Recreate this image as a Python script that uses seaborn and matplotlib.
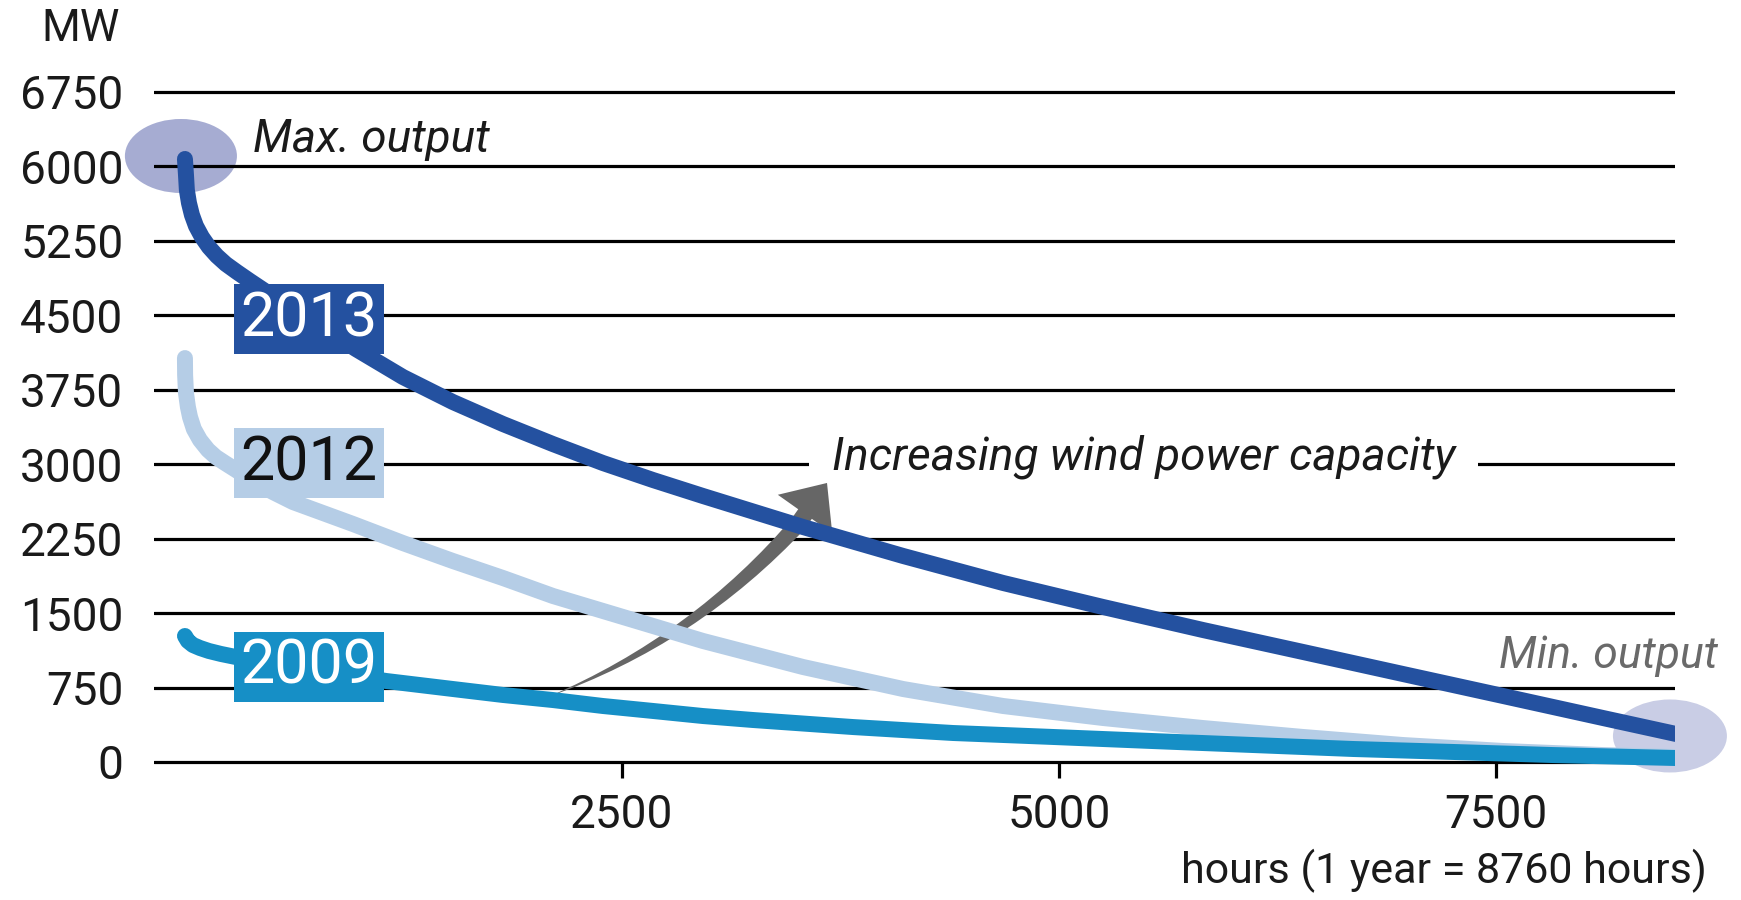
import pandas as pd
import seaborn as sns
import matplotlib.pyplot as plt
from matplotlib.patches import Ellipse

# duration curves (hours sorted by output, MW)
hours_2013 = [0, 6, 11, 23, 40, 63, 97, 137, 183, 234, 297, 372, 458, 561, 675,
              818, 978, 1247, 1533, 1819, 2105, 2391, 2677, 2963, 3535, 4108,
              4680, 5252, 5824, 6396, 6968, 7540, 8112, 8530]
mw_2013 = [6073, 5911, 5760, 5630, 5509, 5398, 5287, 5186, 5096, 5015, 4935,
           4844, 4743, 4632, 4502, 4341, 4159, 3877, 3625, 3404, 3202, 3011,
           2840, 2679, 2367, 2075, 1803, 1561, 1329, 1108, 886, 665, 443, 282]

hours_2012 = [0, 1, 6, 17, 29, 51, 86, 132, 177, 229, 292, 389, 503, 618, 961,
              1247, 1533, 1819, 2105, 2391, 2963, 3535, 4108, 4680, 5252, 5824,
              6396, 6968, 7540, 8112, 8530]
mw_2012 = [4068, 3897, 3716, 3575, 3474, 3353, 3243, 3142, 3071, 3011, 2941,
           2830, 2719, 2618, 2397, 2205, 2024, 1853, 1672, 1521, 1219, 957,
           735, 564, 443, 342, 252, 171, 111, 70, 50]

hours_2009 = [0, 17, 46, 86, 137, 206, 292, 1150, 1533, 1819, 2105, 2391, 2677,
              2963, 3249, 3822, 4394, 4966, 5538, 6110, 6682, 7254, 7826, 8530]
mw_2009 = [1269, 1219, 1178, 1148, 1118, 1088, 1057, 816, 735, 675, 624, 564,
           514, 463, 423, 352, 292, 252, 211, 171, 131, 101, 70, 40]

y_ticks = [0, 750, 1500, 2250, 3000, 3750, 4500, 5250, 6000, 6750]
x_ticks = [2500, 5000, 7500]

colors = {'2013': '#2451a0', '2012': '#b5cde6', '2009': '#168fc6'}
label_colors = {'2013': 'white', '2012': '#111111', '2009': 'white'}
# where the year boxes sit (hours, MW)
label_pos = {'2013': (709, 4460), '2012': (709, 3011), '2009': (709, 957)}

frames = []
for yr, h, m in [('2012', hours_2012, mw_2012), ('2009', hours_2009, mw_2009),
                 ('2013', hours_2013, mw_2013)]:
    frames.append(pd.DataFrame({'year': yr, 'hours': h, 'mw': m}))
df = pd.concat(frames, ignore_index=True)

sns.set_style('white')
plt.rcParams['font.family'] = ['Roboto', 'DejaVu Sans']

fig = plt.figure(figsize=(17.41, 9), dpi=100)
ax = fig.add_axes([154 / 1741, 110 / 900, 1521 / 1741, 750 / 900])

for yr in ['2012', '2009', '2013']:
    sub = df[df['year'] == yr]
    sns.lineplot(data=sub, x='hours', y='mw', color=colors[yr], linewidth=11.5,
                 estimator=None, sort=False, legend=False, ax=ax, zorder=3,
                 solid_capstyle='round', solid_joinstyle='round')

ax.set_xlim(-177, 8524)
ax.set_ylim(-282, 7271)
ax.set_xlabel('')
ax.set_ylabel('')
ax.set_yticks(y_ticks)
ax.set_xticks(x_ticks)
ax.set_yticklabels([str(v) for v in y_ticks])
ax.set_xticklabels([str(v) for v in x_ticks])

ax.grid(axis='y', color='black', linewidth=2.3)
ax.grid(axis='x', visible=False)
ax.set_axisbelow(True)
for s in ax.spines.values():
    s.set_visible(False)
ax.spines['bottom'].set_position(('data', 0))

ax.tick_params(axis='y', left=False, length=0, pad=22, labelsize=33,
               labelcolor='#1a1a1a')
ax.tick_params(axis='x', bottom=True, length=11.5, width=2.3, direction='out',
               pad=11, labelsize=33, color='black', labelcolor='#1a1a1a')

# highlight ellipses for max / min output
ax.add_patch(Ellipse((-23, 6103), 641, 745, fc='#a6acd2', ec='none',
                     zorder=0.3, clip_on=False))
ax.add_patch(Ellipse((8495, 262), 652, 735, fc='#c9cde5', ec='none',
                     zorder=0.3, clip_on=False))

# year boxes
for yr, (hx, my) in label_pos.items():
    ax.text(hx, my, yr, ha='center', va='center', fontsize=44,
            color=label_colors[yr], zorder=5,
            bbox=dict(boxstyle='square,pad=0.1', fc=colors[yr], ec='none'))

ax.text(389, 6143, 'Max. output', fontsize=33, style='italic',
        color='#1a1a1a', va='baseline', ha='left')
ax.text(8770, 947, 'Min. output', fontsize=32, style='italic',
        color='#6a6a6a', va='baseline', ha='right', clip_on=False)
ax.text(3701, 2941, 'Increasing wind power capacity', fontsize=33,
        style='italic', color='#1a1a1a', va='baseline', ha='left', zorder=1.5,
        bbox=dict(boxstyle='square,pad=0.5', fc='white', ec='none'))

# tapered grey arrow: wedge body plus a head
ax.annotate('', xy=(2077, 655), xytext=(3518, 2417),
            arrowprops=dict(arrowstyle='wedge,tail_width=0.6,shrink_factor=0.55',
                            connectionstyle='arc3,rad=-0.12', fc='#666666',
                            ec='none', mutation_scale=20, shrinkA=0, shrinkB=0),
            zorder=2)
ax.annotate('', xy=(3673, 2810), xytext=(3495, 2367),
            arrowprops=dict(arrowstyle='simple,head_length=1.37,head_width=2.4,tail_width=0.6',
                            fc='#666666', ec='none', mutation_scale=20,
                            shrinkA=0, shrinkB=0),
            zorder=2)

fig.text(120 / 1741, 1 - 41 / 900, 'MW', ha='right', va='baseline',
         fontsize=32, color='#1a1a1a')
fig.text(1707 / 1741, 1 - 883 / 900, 'hours (1 year = 8760 hours)',
         ha='right', va='baseline', fontsize=31, color='#1a1a1a')

fig.savefig('out.png', dpi=100)
